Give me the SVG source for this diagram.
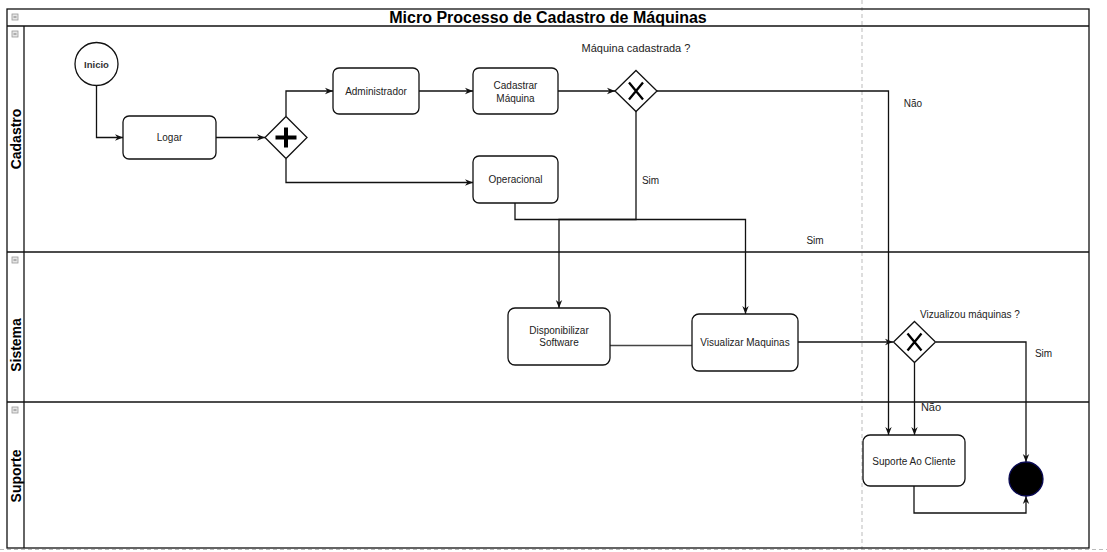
<svg xmlns="http://www.w3.org/2000/svg" width="1107" height="552" viewBox="0 0 1107 552">
<style>
  text{font-family:"Liberation Sans",Arial,sans-serif;fill:#222}
  .lbl{font-size:10px;text-anchor:middle}
  .lane{font-size:14px;font-weight:bold;text-anchor:middle;fill:#000}
  .box{fill:#fff;stroke:#111;stroke-width:1.3}
  .edge{fill:none;stroke:#111;stroke-width:1.3}
  .pool{fill:none;stroke:#111;stroke-width:1.3}
  .pb{stroke:#bbb;stroke-width:1;stroke-dasharray:4 3;fill:none}
  .icon{fill:#e6e6e6;stroke:#999;stroke-width:0.8}
</style>
<defs>
  <marker id="arr" viewBox="0 0 10 10" refX="10" refY="5" markerWidth="8" markerHeight="8" markerUnits="userSpaceOnUse" orient="auto">
    <path d="M0,1 L10,5 L0,9 L3,5 z" fill="#111"/>
  </marker>
  <g id="minus">
    <rect x="0" y="0" width="6" height="6" class="icon"/>
    <line x1="1.5" y1="3" x2="4.5" y2="3" stroke="#777" stroke-width="1"/>
  </g>
</defs>
<rect x="0" y="0" width="1107" height="552" fill="#fff"/>
<g id="pagebreaks">
  <line x1="862" y1="0" x2="862" y2="552" class="pb"/>
  <line x1="0" y1="549.5" x2="1107" y2="549.5" class="pb"/>
</g>
<g id="pool">
  <rect x="7" y="9" width="1082" height="539" fill="#fff" class="pool"/>
  <line x1="7" y1="26" x2="1089" y2="26" class="pool"/>
  <line x1="24" y1="26" x2="24" y2="548" class="pool"/>
  <line x1="7" y1="252" x2="1089" y2="252" class="pool"/>
  <line x1="7" y1="402" x2="1089" y2="402" class="pool"/>
  <text x="548" y="23" style="font-size:16px;font-weight:bold;text-anchor:middle;fill:#000">Micro Processo de Cadastro de Máquinas</text>
  <use href="#minus" x="12" y="14"/>
  <use href="#minus" x="12" y="31"/>
  <use href="#minus" x="12" y="257"/>
  <use href="#minus" x="12" y="407"/>
  <text class="lane" transform="translate(20.5,139) rotate(-90)">Cadastro</text>
  <text class="lane" transform="translate(20.5,345) rotate(-90)">Sistema</text>
  <text class="lane" transform="translate(20.5,476) rotate(-90)">Suporte</text>
</g>
<g id="connectors">
  <polyline class="edge" points="96.5,85.5 96.5,137.5 123,137.5" marker-end="url(#arr)"/>
  <line class="edge" x1="216" y1="137.5" x2="265" y2="137.5" marker-end="url(#arr)"/>
  <polyline class="edge" points="286,116 286,91 333,91" marker-end="url(#arr)"/>
  <polyline class="edge" points="286,159 286,182.5 473,182.5" marker-end="url(#arr)"/>
  <line class="edge" x1="419" y1="91" x2="473" y2="91" marker-end="url(#arr)"/>
  <line class="edge" x1="558" y1="91" x2="615" y2="91" marker-end="url(#arr)"/>
  <polyline class="edge" points="657,91 888.5,91 888.5,435" marker-end="url(#arr)"/>
  <polyline class="edge" points="636,111 636,219.5 559,219.5 559,308" marker-end="url(#arr)"/>
  <polyline class="edge" points="515,203 515,219.5 745.5,219.5 745.5,314" marker-end="url(#arr)"/>
  <line class="edge" x1="610" y1="345.5" x2="692" y2="345.5" style="stroke:#444"/>
  <line class="edge" x1="798" y1="342" x2="893" y2="342" marker-end="url(#arr)"/>
  <polyline class="edge" points="936,342 1026,342 1026,462" marker-end="url(#arr)"/>
  <line class="edge" x1="914.5" y1="363" x2="914.5" y2="435" marker-end="url(#arr)"/>
  <polyline class="edge" points="914,486 914,513 1026,513 1026,496" marker-end="url(#arr)"/>
  <text class="lbl" x="650.5" y="183.5">Sim</text>
  <text class="lbl" x="815" y="243.5">Sim</text>
  <text class="lbl" x="913" y="107">Não</text>
  <text class="lbl" x="1043.5" y="356.5">Sim</text>
  <text class="lbl" x="931" y="410.5" style="font-size:11px">Não</text>
  <text class="lbl" x="636" y="52" style="font-size:11px">Máquina cadastrada ?</text>
  <text class="lbl" x="970" y="317.5">Vizualizou máquinas ?</text>
</g>
<g id="inicio">
  <circle cx="96.5" cy="64" r="21.5" class="box"/>
  <text x="96.5" y="67.5" class="lbl" style="font-size:9.5px;font-weight:bold;fill:#333">Inicio</text>
</g>
<g id="logar">
  <rect x="123" y="116" width="93" height="43" rx="6" class="box"/>
  <text x="169.5" y="141" class="lbl">Logar</text>
</g>
<g id="gateway-paralelo">
  <polygon points="286,116.5 307,137.5 286,158.5 265,137.5" class="box"/>
  <path d="M275.5,137.5 H296.5 M286,127.5 V147.5" stroke="#000" stroke-width="4" fill="none"/>
</g>
<g id="administrador">
  <rect x="333" y="68" width="86" height="46" rx="6" class="box"/>
  <text x="376" y="94.5" class="lbl">Administrador</text>
</g>
<g id="cadastrar-maquina">
  <rect x="473" y="68" width="85" height="46" rx="6" class="box"/>
  <text x="515.5" y="88.5" class="lbl">Cadastrar</text>
  <text x="515.5" y="101.5" class="lbl">Máquina</text>
</g>
<g id="operacional">
  <rect x="473" y="156" width="85" height="47" rx="6" class="box"/>
  <text x="515.5" y="182.5" class="lbl">Operacional</text>
</g>
<g id="gateway-cadastrada">
  <polygon points="636,70.5 657,91 636,111.5 615,91" class="box"/>
  <path d="M629,82.5 L643,99.5 M643,82.5 L629,99.5" stroke="#000" stroke-width="2.3" fill="none"/>
</g>
<g id="disponibilizar-software">
  <rect x="508" y="308" width="102" height="57" rx="7" class="box"/>
  <text x="559" y="334" class="lbl">Disponibilizar</text>
  <text x="559" y="346" class="lbl">Software</text>
</g>
<g id="visualizar-maquinas">
  <rect x="692" y="314" width="106" height="57" rx="7" class="box"/>
  <text x="745" y="346" class="lbl">Visualizar Maquinas</text>
</g>
<g id="gateway-vizualizou">
  <polygon points="914.5,321.5 935.5,342 914.5,362.5 893.5,342" class="box"/>
  <path d="M907.5,333.5 L921.5,350.5 M921.5,333.5 L907.5,350.5" stroke="#000" stroke-width="2.3" fill="none"/>
</g>
<g id="suporte-ao-cliente">
  <rect x="863" y="435" width="102" height="51" rx="7" class="box"/>
  <text x="914" y="464.5" class="lbl">Suporte Ao Cliente</text>
</g>
<g id="fim">
  <circle cx="1026" cy="479" r="17" fill="#000" stroke="#0a0a55" stroke-width="1.3"/>
</g>
</svg>
